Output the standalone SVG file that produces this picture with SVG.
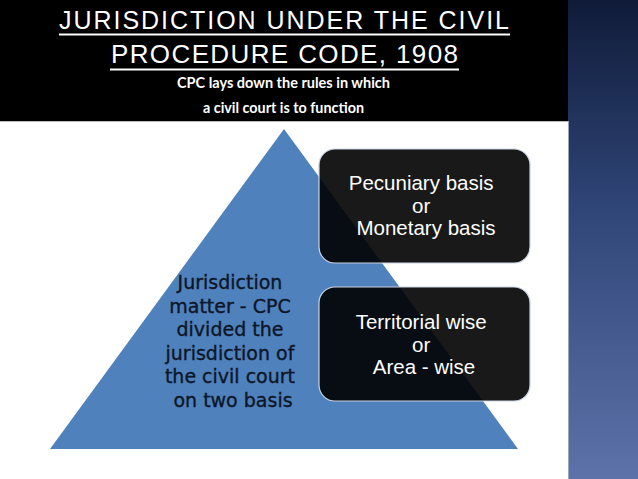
<svg xmlns="http://www.w3.org/2000/svg" width="638" height="479" viewBox="0 0 638 479">
<defs>
<linearGradient id="strip" x1="0" y1="0" x2="0" y2="1">
<stop offset="0" stop-color="#0f1b38"/>
<stop offset="0.45" stop-color="#31477a"/>
<stop offset="1" stop-color="#5d72a8"/>
</linearGradient>
<style>
.title{font-family:"Liberation Sans Narrow","Arial Narrow","Liberation Sans",Arial,sans-serif;font-size:25px;fill:#ffffff;text-anchor:middle}
.sub{font-family:Lato,"Open Sans",sans-serif;font-weight:700;font-size:15.5px;fill:#ffffff;text-anchor:middle}
.pyr{font-family:"DejaVu Sans",Verdana,sans-serif;font-size:19px;fill:#0c1626;stroke:#0c1626;stroke-width:0.35;text-anchor:middle}
.box{fill:#000000;fill-opacity:0.9;stroke:#c9d3e2;stroke-width:1.2}
.btxt{font-family:"Liberation Sans",Arial,sans-serif;font-size:20.5px;fill:#ffffff;text-anchor:middle}
.uline{stroke:#ffffff;stroke-width:2}
</style>
</defs>
<rect x="0" y="0" width="638" height="479" fill="#ffffff"/>
<g id="header">
<rect x="0" y="0" width="568" height="121" fill="#000000"/>
<line x1="0" y1="121.5" x2="568" y2="121.5" stroke="#b8b8b8" stroke-width="1"/>
<text x="284" y="28.5" class="title" textLength="450" lengthAdjust="spacing">JURISDICTION UNDER THE CIVIL</text>
<line x1="59" y1="34.5" x2="510" y2="34.5" class="uline"/>
<text x="284.5" y="63" class="title" style="font-size:26px" textLength="347" lengthAdjust="spacing">PROCEDURE CODE, 1908</text>
<line x1="110" y1="69.5" x2="459" y2="69.5" class="uline"/>
<text x="283.5" y="88" class="sub" textLength="213" lengthAdjust="spacingAndGlyphs">CPC lays down the rules in which</text>
<text x="283.5" y="113" class="sub" textLength="161" lengthAdjust="spacingAndGlyphs">a civil court is to function</text>
</g>
<g id="strip">
<rect x="568" y="0" width="70" height="479" fill="url(#strip)"/>
<line x1="568.5" y1="121" x2="568.5" y2="479" stroke="#9aa6c0" stroke-width="1"/>
</g>
<g id="pyramid">
<polygon points="284,129 518,449 50,449" fill="#4f81bd"/>
<text class="pyr">
<tspan x="233" y="289">Jurisdiction</tspan>
<tspan x="233" y="312.5">matter - CPC</tspan>
<tspan x="233" y="336">divided the</tspan>
<tspan x="233" y="359.5">jurisdiction of</tspan>
<tspan x="233" y="383">the civil court</tspan>
<tspan x="233" y="406.5">on two basis</tspan>
</text>
</g>
<g id="connectors"></g>
<g id="box-pecuniary">
<rect x="319" y="149" width="211" height="114" rx="16" class="box"/>
<text class="btxt">
<tspan x="424" y="190">Pecuniary basis</tspan>
<tspan x="424" y="212.5">or</tspan>
<tspan x="426" y="235">Monetary basis</tspan>
</text>
</g>
<g id="box-territorial">
<rect x="319" y="287" width="211" height="114" rx="16" class="box"/>
<text class="btxt">
<tspan x="424" y="329">Territorial wise</tspan>
<tspan x="424" y="351.5">or</tspan>
<tspan x="424" y="374">Area - wise</tspan>
</text>
</g>
</svg>
